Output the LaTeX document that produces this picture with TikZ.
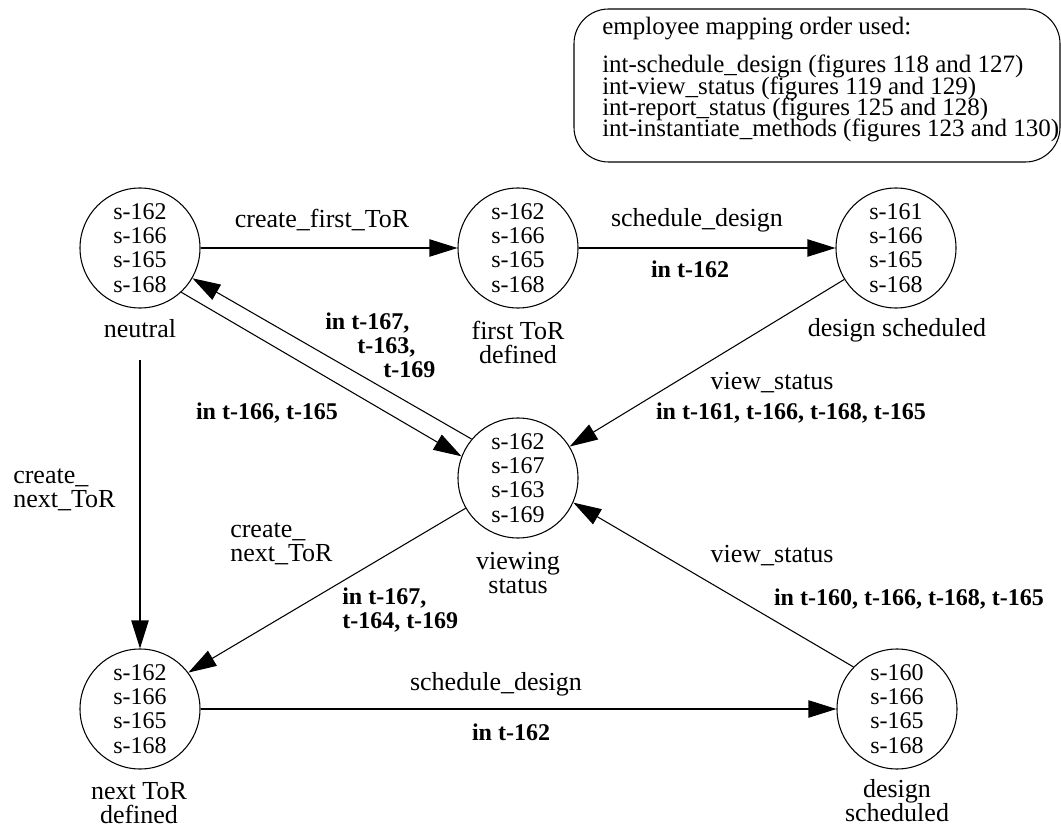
\documentclass[tikz,border=0pt]{standalone}
\usepackage{fontspec}
\setmainfont{Liberation Serif}
\usetikzlibrary{arrows.meta, positioning}

\begin{document}
\begin{tikzpicture}[
    x=0.75pt, y=-0.75pt,
    every node/.style={inner sep=0pt, align=center},
    state/.style={circle, draw, line width=0.8pt, minimum size=90pt, font=\fontsize{18}{18.2}\selectfont},
    statename/.style={anchor=base, font=\fontsize{19.5}{18}\selectfont},
    edgelbl/.style={anchor=base, font=\fontsize{19.5}{18}\selectfont},
    inlbl/.style={anchor=base, font=\fontsize{18}{18}\selectfont\bfseries},
    legendbox/.style={rectangle, draw, line width=0.8pt, rounded corners=26pt, minimum width=364.5pt, minimum height=114.75pt},
    arrow/.style={-{Triangle[length=21pt, width=13pt]}, line width=0.8pt}
]
\useasboundingbox (0,0) rectangle (1061,827);

% Legend
\node (legend) [legendbox] at (817,85.5) {};
\node (legend-txt) [anchor=base west, align=left, font={\fontsize{18.75}{16}\selectfont\lineskiplimit -10pt}] at (602,137)
    {employee mapping order used:\\[12.5pt]
     int-schedule\_design (figures 118 and 127)\\
     int-view\_status (figures 119 and 129)\\
     int-report\_status (figures 125 and 128)\\
     int-instantiate\_methods (figures 123 and 130)};

% States
\node (neutral) [state] at (140,248) {s-162\\s-166\\s-165\\s-168};
\node (firsttor) [state] at (518,248) {s-162\\s-166\\s-165\\s-168};
\node (designed) [state] at (896,248) {s-161\\s-166\\s-165\\s-168};
\node (viewing) [state] at (518,478) {s-162\\s-167\\s-163\\s-169};
\node (nexttor) [state] at (140,709) {s-162\\s-166\\s-165\\s-168};
\node (designed2) [state] at (897,709) {s-160\\s-166\\s-165\\s-168};

% State names
\node (neutral-lbl) [statename] at (140,338) {neutral};
\node (firsttor-lbl) [statename] at (518,364) {first ToR\\defined};
\node (designed-lbl) [statename] at (897,337) {design scheduled};
\node (viewing-lbl) [statename] at (518,593) {viewing\\status};
\node (nexttor-lbl) [statename] at (139,823) {next ToR\\defined};
\node (designed2-lbl) [statename] at (897,821) {design\\scheduled};
\coordinate (neutral-out) at (140,360);

% Transitions
\draw [arrow] (neutral) -- (firsttor);
\draw [arrow] (firsttor) -- (designed);
\draw [arrow] (designed) -- (viewing);
\draw [arrow] (viewing.140) -- (neutral.-30);
\draw [arrow] (neutral.-47) -- (viewing.159);
\draw [arrow] (neutral-out) -- (nexttor);
\draw [arrow] (viewing.210) -- (nexttor.37);
\draw [arrow] (nexttor) -- (designed2);
\draw [arrow] (designed2.136) -- (viewing.-24);

% Transition labels
\node (l-first) [edgelbl] at (322,228) {create\_first\_ToR};
\node (l-sched) [edgelbl] at (697,227) {schedule\_design};
\node (i-sched) [inlbl] at (690,278) {in t-162};
\node (i-back) [inlbl, anchor=base west, align=left] at (325,378) {in t-167,\\\hspace*{24pt}t-163,\\\hspace*{43.5pt}t-169};
\node (i-view) [inlbl] at (267,420) {in t-166, t-165};
\node (l-view) [edgelbl] at (772,390) {view\_status};
\node (i-view1) [inlbl] at (791,420) {in t-161, t-166, t-168, t-165};
\node (l-next) [edgelbl, anchor=base west, align=left] at (13,507) {create\_\\next\_ToR};
\node (l-next2) [edgelbl, anchor=base west, align=left] at (230,561) {create\_\\next\_ToR};
\node (i-next2) [inlbl, anchor=base west, align=left] at (342,628) {in t-167,\\t-164, t-169};
\node (l-view2) [edgelbl] at (772,562) {view\_status};
\node (i-view2) [inlbl] at (909,605) {in t-160, t-166, t-168, t-165};
\node (l-sched2) [edgelbl] at (496,690) {schedule\_design};
\node (i-sched2) [inlbl] at (511,740) {in t-162};

\end{tikzpicture}
\end{document}
